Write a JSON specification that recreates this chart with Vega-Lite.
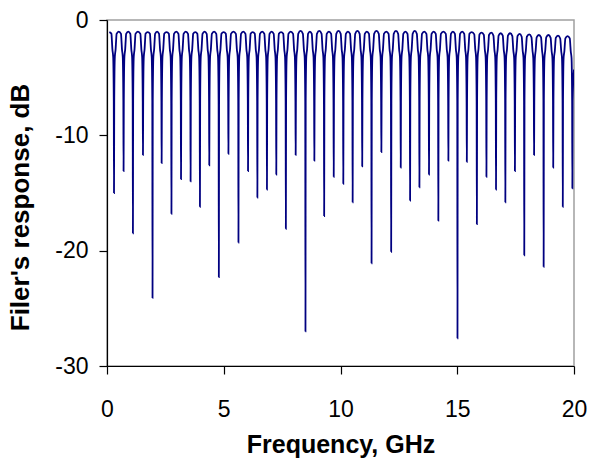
{
  "$schema": "https://vega.github.io/schema/vega-lite/v6.json",
  "autosize": {"type": "none"},
  "width": 467,
  "height": 346,
  "padding": {"left": 107, "top": 20, "right": 18, "bottom": 102},
  "background": "white",
  "config": {
    "view": {"stroke": "#a0a0a0", "strokeWidth": 1.5},
    "axis": {
      "grid": false,
      "domainColor": "black",
      "domainWidth": 1.2,
      "tickColor": "black",
      "tickWidth": 1.2,
      "tickSize": 8,
      "labelFont": "Liberation Sans",
      "labelFontSize": 23,
      "labelColor": "black",
      "titleFont": "Liberation Sans",
      "titleFontWeight": "bold",
      "titleColor": "black"
    }
  },
  "data": {
    "values": [
      {"freq":0.10,"db":-1.05},
      {"freq":0.19,"db":-1.2},{"freq":0.21,"db":-1.8},{"freq":0.23,"db":-2.5},{"freq":0.265,"db":-3.2},{"freq":0.29,"db":-7},{"freq":0.30,"db":-15.0},{"freq":0.31,"db":-7},{"freq":0.335,"db":-3.2},{"freq":0.37,"db":-2.5},{"freq":0.39,"db":-1.8},{"freq":0.41,"db":-1.2},{"freq":0.505,"db":-1.0},
      {"freq":0.60,"db":-1.2},{"freq":0.62,"db":-1.8},{"freq":0.64,"db":-2.5},{"freq":0.675,"db":-3.2},{"freq":0.70,"db":-7},{"freq":0.71,"db":-13.1},{"freq":0.72,"db":-7},{"freq":0.745,"db":-3.2},{"freq":0.78,"db":-2.5},{"freq":0.80,"db":-1.8},{"freq":0.82,"db":-1.2},{"freq":0.91,"db":-1.0},
      {"freq":1.00,"db":-1.2},{"freq":1.02,"db":-1.8},{"freq":1.04,"db":-2.5},{"freq":1.075,"db":-3.2},{"freq":1.10,"db":-7},{"freq":1.11,"db":-18.5},{"freq":1.12,"db":-7},{"freq":1.145,"db":-3.2},{"freq":1.18,"db":-2.5},{"freq":1.20,"db":-1.8},{"freq":1.22,"db":-1.2},{"freq":1.325,"db":-1.0},
      {"freq":1.43,"db":-1.2},{"freq":1.45,"db":-1.8},{"freq":1.47,"db":-2.5},{"freq":1.505,"db":-3.2},{"freq":1.53,"db":-7},{"freq":1.54,"db":-11.7},{"freq":1.55,"db":-7},{"freq":1.575,"db":-3.2},{"freq":1.61,"db":-2.5},{"freq":1.63,"db":-1.8},{"freq":1.65,"db":-1.2},{"freq":1.745,"db":-1.05},
      {"freq":1.84,"db":-1.2},{"freq":1.86,"db":-1.8},{"freq":1.88,"db":-2.5},{"freq":1.915,"db":-3.2},{"freq":1.94,"db":-7},{"freq":1.95,"db":-24.1},{"freq":1.96,"db":-7},{"freq":1.985,"db":-3.2},{"freq":2.02,"db":-2.5},{"freq":2.04,"db":-1.8},{"freq":2.06,"db":-1.2},{"freq":2.145,"db":-1.0},
      {"freq":2.23,"db":-1.2},{"freq":2.25,"db":-1.8},{"freq":2.27,"db":-2.5},{"freq":2.305,"db":-3.2},{"freq":2.33,"db":-7},{"freq":2.34,"db":-12.4},{"freq":2.35,"db":-7},{"freq":2.375,"db":-3.2},{"freq":2.41,"db":-2.5},{"freq":2.43,"db":-1.8},{"freq":2.45,"db":-1.2},{"freq":2.55,"db":-1.05},
      {"freq":2.65,"db":-1.2},{"freq":2.67,"db":-1.8},{"freq":2.69,"db":-2.5},{"freq":2.725,"db":-3.2},{"freq":2.75,"db":-7},{"freq":2.76,"db":-16.8},{"freq":2.77,"db":-7},{"freq":2.795,"db":-3.2},{"freq":2.83,"db":-2.5},{"freq":2.85,"db":-1.8},{"freq":2.87,"db":-1.2},{"freq":2.965,"db":-1.0},
      {"freq":3.06,"db":-1.2},{"freq":3.08,"db":-1.8},{"freq":3.10,"db":-2.5},{"freq":3.135,"db":-3.2},{"freq":3.16,"db":-7},{"freq":3.17,"db":-13.8},{"freq":3.18,"db":-7},{"freq":3.205,"db":-3.2},{"freq":3.24,"db":-2.5},{"freq":3.26,"db":-1.8},{"freq":3.28,"db":-1.2},{"freq":3.375,"db":-1.0},
      {"freq":3.47,"db":-1.2},{"freq":3.49,"db":-1.8},{"freq":3.51,"db":-2.5},{"freq":3.545,"db":-3.2},{"freq":3.57,"db":-7},{"freq":3.58,"db":-14.0},{"freq":3.59,"db":-7},{"freq":3.615,"db":-3.2},{"freq":3.65,"db":-2.5},{"freq":3.67,"db":-1.8},{"freq":3.69,"db":-1.2},{"freq":3.78,"db":-1.05},
      {"freq":3.87,"db":-1.2},{"freq":3.89,"db":-1.8},{"freq":3.91,"db":-2.5},{"freq":3.945,"db":-3.2},{"freq":3.97,"db":-7},{"freq":3.98,"db":-16.2},{"freq":3.99,"db":-7},{"freq":4.015,"db":-3.2},{"freq":4.05,"db":-2.5},{"freq":4.07,"db":-1.8},{"freq":4.09,"db":-1.2},{"freq":4.18,"db":-1.0},
      {"freq":4.27,"db":-1.2},{"freq":4.29,"db":-1.8},{"freq":4.31,"db":-2.5},{"freq":4.345,"db":-3.2},{"freq":4.37,"db":-7},{"freq":4.38,"db":-12.6},{"freq":4.39,"db":-7},{"freq":4.415,"db":-3.2},{"freq":4.45,"db":-2.5},{"freq":4.47,"db":-1.8},{"freq":4.49,"db":-1.2},{"freq":4.585,"db":-1.0},
      {"freq":4.68,"db":-1.2},{"freq":4.70,"db":-1.8},{"freq":4.72,"db":-2.5},{"freq":4.755,"db":-3.2},{"freq":4.78,"db":-7},{"freq":4.79,"db":-22.3},{"freq":4.80,"db":-7},{"freq":4.825,"db":-3.2},{"freq":4.86,"db":-2.5},{"freq":4.88,"db":-1.8},{"freq":4.90,"db":-1.2},{"freq":4.995,"db":-1.05},
      {"freq":5.09,"db":-1.2},{"freq":5.11,"db":-1.8},{"freq":5.13,"db":-2.5},{"freq":5.165,"db":-3.2},{"freq":5.19,"db":-7},{"freq":5.20,"db":-11.6},{"freq":5.21,"db":-7},{"freq":5.235,"db":-3.2},{"freq":5.27,"db":-2.5},{"freq":5.29,"db":-1.8},{"freq":5.31,"db":-1.2},{"freq":5.415,"db":-1.0},
      {"freq":5.52,"db":-1.2},{"freq":5.54,"db":-1.8},{"freq":5.56,"db":-2.5},{"freq":5.595,"db":-3.2},{"freq":5.62,"db":-7},{"freq":5.63,"db":-19.3},{"freq":5.64,"db":-7},{"freq":5.665,"db":-3.2},{"freq":5.70,"db":-2.5},{"freq":5.72,"db":-1.8},{"freq":5.74,"db":-1.2},{"freq":5.835,"db":-1.0},
      {"freq":5.93,"db":-1.2},{"freq":5.95,"db":-1.8},{"freq":5.97,"db":-2.5},{"freq":6.005,"db":-3.2},{"freq":6.03,"db":-7},{"freq":6.04,"db":-13.1},{"freq":6.05,"db":-7},{"freq":6.075,"db":-3.2},{"freq":6.11,"db":-2.5},{"freq":6.13,"db":-1.8},{"freq":6.15,"db":-1.2},{"freq":6.24,"db":-1.05},
      {"freq":6.33,"db":-1.2},{"freq":6.35,"db":-1.8},{"freq":6.37,"db":-2.5},{"freq":6.405,"db":-3.2},{"freq":6.43,"db":-7},{"freq":6.44,"db":-15.4},{"freq":6.45,"db":-7},{"freq":6.475,"db":-3.2},{"freq":6.51,"db":-2.5},{"freq":6.53,"db":-1.8},{"freq":6.55,"db":-1.2},{"freq":6.645,"db":-1.0},
      {"freq":6.74,"db":-1.2},{"freq":6.76,"db":-1.8},{"freq":6.78,"db":-2.5},{"freq":6.815,"db":-3.2},{"freq":6.84,"db":-7},{"freq":6.85,"db":-14.7},{"freq":6.86,"db":-7},{"freq":6.885,"db":-3.2},{"freq":6.92,"db":-2.5},{"freq":6.94,"db":-1.8},{"freq":6.96,"db":-1.2},{"freq":7.05,"db":-1.0},
      {"freq":7.14,"db":-1.2},{"freq":7.16,"db":-1.8},{"freq":7.18,"db":-2.5},{"freq":7.215,"db":-3.2},{"freq":7.24,"db":-7},{"freq":7.25,"db":-13.4},{"freq":7.26,"db":-7},{"freq":7.285,"db":-3.2},{"freq":7.32,"db":-2.5},{"freq":7.34,"db":-1.8},{"freq":7.36,"db":-1.2},{"freq":7.455,"db":-1.05},
      {"freq":7.55,"db":-1.2},{"freq":7.57,"db":-1.8},{"freq":7.59,"db":-2.5},{"freq":7.625,"db":-3.2},{"freq":7.65,"db":-7},{"freq":7.66,"db":-18.1},{"freq":7.67,"db":-7},{"freq":7.695,"db":-3.2},{"freq":7.73,"db":-2.5},{"freq":7.75,"db":-1.8},{"freq":7.77,"db":-1.2},{"freq":7.87,"db":-1.0},
      {"freq":7.97,"db":-1.2},{"freq":7.99,"db":-1.8},{"freq":8.01,"db":-2.5},{"freq":8.045,"db":-3.2},{"freq":8.07,"db":-7},{"freq":8.08,"db":-11.7},{"freq":8.09,"db":-7},{"freq":8.115,"db":-3.2},{"freq":8.15,"db":-2.5},{"freq":8.17,"db":-1.8},{"freq":8.19,"db":-1.2},{"freq":8.29,"db":-0.95},
      {"freq":8.39,"db":-1.2},{"freq":8.41,"db":-1.8},{"freq":8.43,"db":-2.5},{"freq":8.465,"db":-3.2},{"freq":8.49,"db":-7},{"freq":8.50,"db":-27.0},{"freq":8.51,"db":-7},{"freq":8.535,"db":-3.2},{"freq":8.57,"db":-2.5},{"freq":8.59,"db":-1.8},{"freq":8.61,"db":-1.2},{"freq":8.69,"db":-1.0},
      {"freq":8.77,"db":-1.2},{"freq":8.79,"db":-1.8},{"freq":8.81,"db":-2.5},{"freq":8.845,"db":-3.2},{"freq":8.87,"db":-7},{"freq":8.88,"db":-12.2},{"freq":8.89,"db":-7},{"freq":8.915,"db":-3.2},{"freq":8.95,"db":-2.5},{"freq":8.97,"db":-1.8},{"freq":8.99,"db":-1.2},{"freq":9.09,"db":-0.95},
      {"freq":9.19,"db":-1.2},{"freq":9.21,"db":-1.8},{"freq":9.23,"db":-2.5},{"freq":9.265,"db":-3.2},{"freq":9.29,"db":-7},{"freq":9.30,"db":-17.0},{"freq":9.31,"db":-7},{"freq":9.335,"db":-3.2},{"freq":9.37,"db":-2.5},{"freq":9.39,"db":-1.8},{"freq":9.41,"db":-1.2},{"freq":9.505,"db":-1.0},
      {"freq":9.60,"db":-1.2},{"freq":9.62,"db":-1.8},{"freq":9.64,"db":-2.5},{"freq":9.675,"db":-3.2},{"freq":9.70,"db":-7},{"freq":9.71,"db":-13.6},{"freq":9.72,"db":-7},{"freq":9.745,"db":-3.2},{"freq":9.78,"db":-2.5},{"freq":9.80,"db":-1.8},{"freq":9.82,"db":-1.2},{"freq":9.915,"db":-0.95},
      {"freq":10.01,"db":-1.2},{"freq":10.03,"db":-1.8},{"freq":10.05,"db":-2.5},{"freq":10.085,"db":-3.2},{"freq":10.11,"db":-7},{"freq":10.12,"db":-14.2},{"freq":10.13,"db":-7},{"freq":10.155,"db":-3.2},{"freq":10.19,"db":-2.5},{"freq":10.21,"db":-1.8},{"freq":10.23,"db":-1.2},{"freq":10.32,"db":-1.0},
      {"freq":10.41,"db":-1.2},{"freq":10.43,"db":-1.8},{"freq":10.45,"db":-2.5},{"freq":10.485,"db":-3.2},{"freq":10.51,"db":-7},{"freq":10.52,"db":-15.8},{"freq":10.53,"db":-7},{"freq":10.555,"db":-3.2},{"freq":10.59,"db":-2.5},{"freq":10.61,"db":-1.8},{"freq":10.63,"db":-1.2},{"freq":10.725,"db":-0.95},
      {"freq":10.82,"db":-1.2},{"freq":10.84,"db":-1.8},{"freq":10.86,"db":-2.5},{"freq":10.895,"db":-3.2},{"freq":10.92,"db":-7},{"freq":10.93,"db":-12.7},{"freq":10.94,"db":-7},{"freq":10.965,"db":-3.2},{"freq":11.00,"db":-2.5},{"freq":11.02,"db":-1.8},{"freq":11.04,"db":-1.2},{"freq":11.13,"db":-1.0},
      {"freq":11.22,"db":-1.2},{"freq":11.24,"db":-1.8},{"freq":11.26,"db":-2.5},{"freq":11.295,"db":-3.2},{"freq":11.32,"db":-7},{"freq":11.33,"db":-21.1},{"freq":11.34,"db":-7},{"freq":11.365,"db":-3.2},{"freq":11.40,"db":-2.5},{"freq":11.42,"db":-1.8},{"freq":11.44,"db":-1.2},{"freq":11.54,"db":-0.95},
      {"freq":11.64,"db":-1.2},{"freq":11.66,"db":-1.8},{"freq":11.68,"db":-2.5},{"freq":11.715,"db":-3.2},{"freq":11.74,"db":-7},{"freq":11.75,"db":-11.45},{"freq":11.76,"db":-7},{"freq":11.785,"db":-3.2},{"freq":11.82,"db":-2.5},{"freq":11.84,"db":-1.8},{"freq":11.86,"db":-1.2},{"freq":11.96,"db":-1.0},
      {"freq":12.06,"db":-1.2},{"freq":12.08,"db":-1.8},{"freq":12.10,"db":-2.5},{"freq":12.135,"db":-3.2},{"freq":12.16,"db":-7},{"freq":12.17,"db":-20.1},{"freq":12.18,"db":-7},{"freq":12.205,"db":-3.2},{"freq":12.24,"db":-2.5},{"freq":12.26,"db":-1.8},{"freq":12.28,"db":-1.2},{"freq":12.375,"db":-0.95},
      {"freq":12.47,"db":-1.2},{"freq":12.49,"db":-1.8},{"freq":12.51,"db":-2.5},{"freq":12.545,"db":-3.2},{"freq":12.57,"db":-7},{"freq":12.58,"db":-12.8},{"freq":12.59,"db":-7},{"freq":12.615,"db":-3.2},{"freq":12.65,"db":-2.5},{"freq":12.67,"db":-1.8},{"freq":12.69,"db":-1.2},{"freq":12.78,"db":-1.0},
      {"freq":12.87,"db":-1.2},{"freq":12.89,"db":-1.8},{"freq":12.91,"db":-2.5},{"freq":12.945,"db":-3.2},{"freq":12.97,"db":-7},{"freq":12.98,"db":-15.65},{"freq":12.99,"db":-7},{"freq":13.015,"db":-3.2},{"freq":13.05,"db":-2.5},{"freq":13.07,"db":-1.8},{"freq":13.09,"db":-1.2},{"freq":13.18,"db":-0.95},
      {"freq":13.27,"db":-1.2},{"freq":13.29,"db":-1.8},{"freq":13.31,"db":-2.5},{"freq":13.345,"db":-3.2},{"freq":13.37,"db":-7},{"freq":13.38,"db":-14.5},{"freq":13.39,"db":-7},{"freq":13.415,"db":-3.2},{"freq":13.45,"db":-2.5},{"freq":13.47,"db":-1.8},{"freq":13.49,"db":-1.2},{"freq":13.585,"db":-1.0},
      {"freq":13.68,"db":-1.2},{"freq":13.70,"db":-1.8},{"freq":13.72,"db":-2.5},{"freq":13.755,"db":-3.2},{"freq":13.78,"db":-7},{"freq":13.79,"db":-13.4},{"freq":13.80,"db":-7},{"freq":13.825,"db":-3.2},{"freq":13.86,"db":-2.5},{"freq":13.88,"db":-1.8},{"freq":13.90,"db":-1.2},{"freq":13.99,"db":-1.0},
      {"freq":14.08,"db":-1.2},{"freq":14.10,"db":-1.8},{"freq":14.12,"db":-2.5},{"freq":14.155,"db":-3.2},{"freq":14.18,"db":-7},{"freq":14.19,"db":-17.4},{"freq":14.20,"db":-7},{"freq":14.225,"db":-3.2},{"freq":14.26,"db":-2.5},{"freq":14.28,"db":-1.8},{"freq":14.30,"db":-1.2},{"freq":14.405,"db":-1.0},
      {"freq":14.51,"db":-1.2},{"freq":14.53,"db":-1.8},{"freq":14.55,"db":-2.5},{"freq":14.585,"db":-3.2},{"freq":14.61,"db":-7},{"freq":14.62,"db":-12.2},{"freq":14.63,"db":-7},{"freq":14.655,"db":-3.2},{"freq":14.69,"db":-2.5},{"freq":14.71,"db":-1.8},{"freq":14.73,"db":-1.2},{"freq":14.815,"db":-1.0},
      {"freq":14.90,"db":-1.2},{"freq":14.92,"db":-1.8},{"freq":14.94,"db":-2.5},{"freq":14.975,"db":-3.2},{"freq":15.00,"db":-7},{"freq":15.01,"db":-27.6},{"freq":15.02,"db":-7},{"freq":15.045,"db":-3.2},{"freq":15.08,"db":-2.5},{"freq":15.10,"db":-1.8},{"freq":15.12,"db":-1.2},{"freq":15.21,"db":-1.0},
      {"freq":15.30,"db":-1.2},{"freq":15.32,"db":-1.8},{"freq":15.34,"db":-2.5},{"freq":15.375,"db":-3.2},{"freq":15.40,"db":-7},{"freq":15.41,"db":-12.3},{"freq":15.42,"db":-7},{"freq":15.445,"db":-3.2},{"freq":15.48,"db":-2.5},{"freq":15.50,"db":-1.8},{"freq":15.52,"db":-1.2},{"freq":15.625,"db":-1.05},
      {"freq":15.73,"db":-1.25},{"freq":15.75,"db":-1.85},{"freq":15.77,"db":-2.5},{"freq":15.805,"db":-3.2},{"freq":15.83,"db":-7},{"freq":15.84,"db":-17.7},{"freq":15.85,"db":-7},{"freq":15.875,"db":-3.2},{"freq":15.91,"db":-2.5},{"freq":15.93,"db":-1.85},{"freq":15.95,"db":-1.25},{"freq":16.045,"db":-1.1},
      {"freq":16.14,"db":-1.3},{"freq":16.16,"db":-1.9},{"freq":16.18,"db":-2.55},{"freq":16.215,"db":-3.2},{"freq":16.24,"db":-7},{"freq":16.25,"db":-13.6},{"freq":16.26,"db":-7},{"freq":16.285,"db":-3.2},{"freq":16.32,"db":-2.55},{"freq":16.34,"db":-1.9},{"freq":16.36,"db":-1.3},{"freq":16.455,"db":-1.1},
      {"freq":16.55,"db":-1.35},{"freq":16.57,"db":-1.9},{"freq":16.59,"db":-2.55},{"freq":16.625,"db":-3.2},{"freq":16.65,"db":-7},{"freq":16.66,"db":-14.7},{"freq":16.67,"db":-7},{"freq":16.695,"db":-3.2},{"freq":16.73,"db":-2.55},{"freq":16.75,"db":-1.9},{"freq":16.77,"db":-1.35},{"freq":16.86,"db":-1.15},
      {"freq":16.95,"db":-1.35},{"freq":16.97,"db":-1.9},{"freq":16.99,"db":-2.55},{"freq":17.025,"db":-3.2},{"freq":17.05,"db":-7},{"freq":17.06,"db":-15.8},{"freq":17.07,"db":-7},{"freq":17.095,"db":-3.2},{"freq":17.13,"db":-2.55},{"freq":17.15,"db":-1.9},{"freq":17.17,"db":-1.35},{"freq":17.265,"db":-1.15},
      {"freq":17.36,"db":-1.4},{"freq":17.38,"db":-1.95},{"freq":17.40,"db":-2.6},{"freq":17.435,"db":-3.25},{"freq":17.46,"db":-7},{"freq":17.47,"db":-13.1},{"freq":17.48,"db":-7},{"freq":17.505,"db":-3.25},{"freq":17.54,"db":-2.6},{"freq":17.56,"db":-1.95},{"freq":17.58,"db":-1.4},{"freq":17.67,"db":-1.2},
      {"freq":17.76,"db":-1.45},{"freq":17.78,"db":-1.95},{"freq":17.80,"db":-2.6},{"freq":17.835,"db":-3.25},{"freq":17.86,"db":-7},{"freq":17.87,"db":-20.4},{"freq":17.88,"db":-7},{"freq":17.905,"db":-3.25},{"freq":17.94,"db":-2.6},{"freq":17.96,"db":-1.95},{"freq":17.98,"db":-1.45},{"freq":18.08,"db":-1.25},
      {"freq":18.18,"db":-1.5},{"freq":18.20,"db":-2.0},{"freq":18.22,"db":-2.6},{"freq":18.255,"db":-3.3},{"freq":18.28,"db":-7},{"freq":18.29,"db":-11.7},{"freq":18.30,"db":-7},{"freq":18.325,"db":-3.3},{"freq":18.36,"db":-2.6},{"freq":18.38,"db":-2.0},{"freq":18.40,"db":-1.5},{"freq":18.495,"db":-1.3},
      {"freq":18.59,"db":-1.5},{"freq":18.61,"db":-2.0},{"freq":18.63,"db":-2.6},{"freq":18.665,"db":-3.3},{"freq":18.69,"db":-7},{"freq":18.70,"db":-21.4},{"freq":18.71,"db":-7},{"freq":18.735,"db":-3.3},{"freq":18.77,"db":-2.6},{"freq":18.79,"db":-2.0},{"freq":18.81,"db":-1.5},{"freq":18.905,"db":-1.3},
      {"freq":19.00,"db":-1.55},{"freq":19.02,"db":-2.05},{"freq":19.04,"db":-2.65},{"freq":19.075,"db":-3.3},{"freq":19.10,"db":-7},{"freq":19.11,"db":-12.8},{"freq":19.12,"db":-7},{"freq":19.145,"db":-3.3},{"freq":19.18,"db":-2.65},{"freq":19.20,"db":-2.05},{"freq":19.22,"db":-1.55},{"freq":19.315,"db":-1.35},
      {"freq":19.41,"db":-1.6},{"freq":19.43,"db":-2.05},{"freq":19.45,"db":-2.65},{"freq":19.485,"db":-3.3},{"freq":19.51,"db":-7},{"freq":19.52,"db":-16.2},{"freq":19.53,"db":-7},{"freq":19.555,"db":-3.3},{"freq":19.59,"db":-2.65},{"freq":19.61,"db":-2.05},{"freq":19.63,"db":-1.6},{"freq":19.725,"db":-1.4},
      {"freq":19.82,"db":-1.6},{"freq":19.84,"db":-2.1},{"freq":19.86,"db":-2.7},{"freq":19.895,"db":-3.3},{"freq":19.92,"db":-7},{"freq":19.93,"db":-14.6},{"freq":19.94,"db":-7},{"freq":20.0,"db":-4.3}
    ]
  },
  "mark": {"type": "line", "color": "#000080", "strokeWidth": 1.8, "interpolate": "monotone", "clip": true},
  "encoding": {
    "x": {
      "field": "freq",
      "type": "quantitative",
      "scale": {"domain": [0, 20], "nice": false, "zero": false},
      "axis": {
        "values": [0, 5, 10, 15, 20],
        "format": "d",
        "labelPadding": 24,
        "labelFlush": false,
        "title": "Frequency, GHz",
        "titleFontSize": 25,
        "titleY": 86,
        "titleBaseline": "alphabetic"
      }
    },
    "y": {
      "field": "db",
      "type": "quantitative",
      "scale": {"domain": [-30, 0], "nice": false, "zero": false},
      "axis": {
        "values": [-30, -20, -10, 0],
        "labelExpr": "datum.value < 0 ? '-' + abs(datum.value) : '' + datum.value",
        "labelPadding": 11,
        "labelFlush": false,
        "title": "Filer's response, dB",
        "titleFontSize": 26,
        "titleX": -87,
        "titleY": 187,
        "titleBaseline": "middle"
      }
    }
  }
}
